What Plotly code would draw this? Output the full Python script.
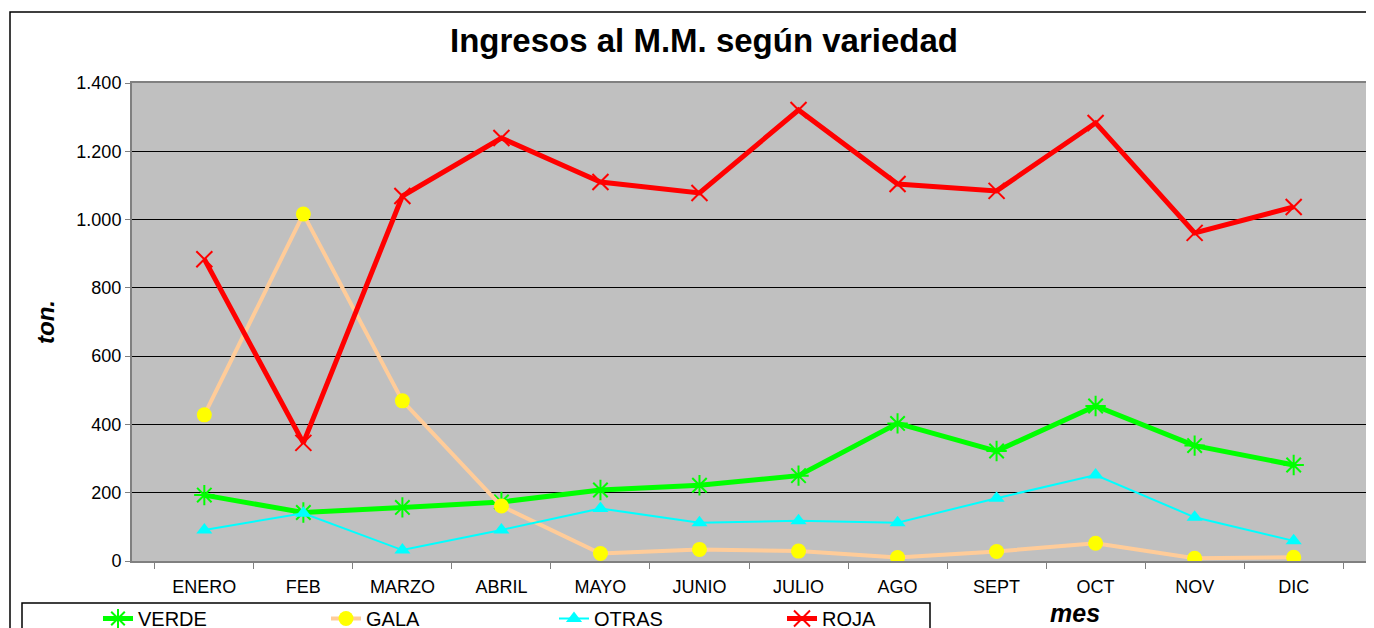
import plotly.graph_objects as go

meses = ["ENERO", "FEB", "MARZO", "ABRIL", "MAYO", "JUNIO", "JULIO", "AGO", "SEPT", "OCT", "NOV", "DIC"]
verde = [193, 142, 157, 173, 208, 222, 250, 403, 322, 454, 338, 281]
gala = [428, 1016, 469, 161, 22, 34, 29, 10, 28, 52, 8, 11]
otras = [91, 140, 32, 91, 154, 112, 118, 112, 184, 252, 128, 59]
roja = [884, 346, 1069, 1239, 1110, 1078, 1321, 1104, 1084, 1283, 961, 1037]
y_ticks = [0, 200, 400, 600, 800, 1000, 1200, 1400]

fig = go.Figure()
fig.add_trace(go.Scatter(x=meses, y=verde, name="VERDE", mode="lines+markers",
                         line=dict(color="#00FF00", width=5),
                         marker=dict(symbol="asterisk-open", size=17, color="#00FF00",
                                     line=dict(width=2, color="#00FF00"))))
fig.add_trace(go.Scatter(x=meses, y=gala, name="GALA", mode="lines+markers",
                         line=dict(color="#FFCC99", width=4),
                         marker=dict(symbol="circle", size=15, color="#FFFF00",
                                     line=dict(width=0))))
fig.add_trace(go.Scatter(x=meses, y=otras, name="OTRAS", mode="lines+markers",
                         line=dict(color="#00FFFF", width=2),
                         marker=dict(symbol="triangle-up", size=14, color="#00FFFF",
                                     line=dict(width=0))))
fig.add_trace(go.Scatter(x=meses, y=roja, name="ROJA", mode="lines+markers",
                         line=dict(color="#FF0000", width=5),
                         marker=dict(symbol="x-thin-open", size=16, color="#FF0000",
                                     line=dict(width=2, color="#FF0000"))))

# page places the figure 8px in from top-left (body margin); compensate
OFF = 8
W, H = 1374, 628
PL, PR, PT, PB = 132, 1366, 83, 561  # plot area in window pixels
L, T = PL - OFF, PT - OFF
R, B = W - (PR - OFF), H - (PB - OFF)
pw, ph = W - L - R, H - T - B

def px(x):
    return (x - OFF - L) / pw

def py(y):
    return (H - B - (y - OFF)) / ph

fig.update_layout(
    width=W, height=H,
    margin=dict(l=L, r=R, t=T, b=B, autoexpand=False),
    paper_bgcolor="white",
    plot_bgcolor="#C0C0C0",
    separators=",.",
    font=dict(family="Liberation Sans, Arial", color="black", size=18),
    title=dict(text="<b>Ingresos al M.M. según variedad</b>", x=(704 - OFF) / W, xref="container",
               xanchor="center", y=1 - (40 - OFF) / H, yanchor="middle",
               font=dict(size=33, color="black")),
    showlegend=True,
    legend=dict(orientation="h", x=px(98), y=py(599), xanchor="left", yanchor="top",
                bgcolor="rgba(0,0,0,0)", borderwidth=0,
                entrywidth=183, entrywidthmode="pixels",
                font=dict(size=20)),
    xaxis=dict(showgrid=False, showline=True, linecolor="#808080", linewidth=2, mirror=True,
               ticks="outside", tickson="boundaries", ticklen=6, tickcolor="#808080",
               ticklabelstandoff=8, tickfont=dict(size=18), fixedrange=True),
    yaxis=dict(range=[0, 1400], tickvals=y_ticks, tickformat=",d",
               showgrid=True, gridcolor="black", gridwidth=1,
               showline=True, linecolor="#808080", linewidth=2, mirror=True,
               ticks="outside", ticklen=5, tickcolor="#808080",
               tickfont=dict(size=18), zeroline=False),
    shapes=[
        dict(type="rect", xref="paper", yref="paper", x0=px(10), x1=px(1390), y0=py(660), y1=py(12),
             line=dict(color="black", width=1.5), fillcolor="rgba(0,0,0,0)", layer="below"),
        dict(type="rect", xref="paper", yref="paper", x0=px(22), x1=px(930), y0=py(660), y1=py(603),
             line=dict(color="black", width=1.5), fillcolor="rgba(0,0,0,0)"),
    ],
    annotations=[
        dict(text="<b><i>ton.</i></b>", xref="paper", yref="paper", x=px(45), y=py(322),
             showarrow=False, textangle=-90, font=dict(size=24), xanchor="center", yanchor="middle"),
        dict(text="<b><i>mes</i></b>", xref="paper", yref="paper", x=px(1075), y=py(613),
             showarrow=False, font=dict(size=25), xanchor="center", yanchor="middle"),
    ],
)

fig.write_html("out.html")
